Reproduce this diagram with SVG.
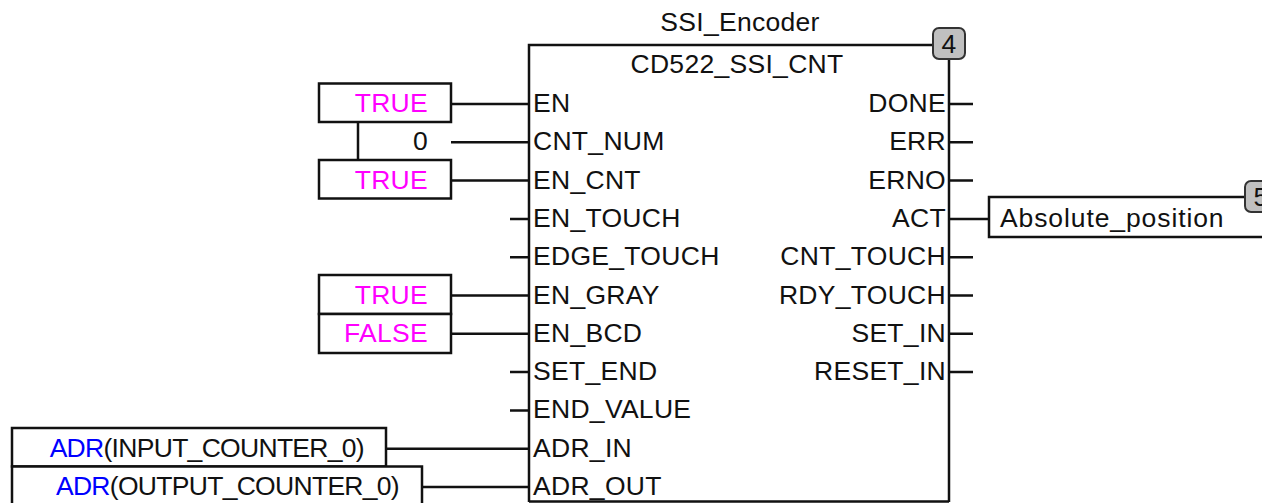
<svg xmlns="http://www.w3.org/2000/svg" width="1262" height="503" viewBox="0 0 1262 503">
<style>
.ln{stroke:#111;stroke-width:2.5;fill:none}
.box{stroke:#111;stroke-width:2.5;fill:#fff}
.badge{stroke:#333;stroke-width:2;fill:#c0c0c0}
text{font-family:"Liberation Sans",Arial,sans-serif;font-size:26.5px;fill:#111;letter-spacing:0.3px}
.r{text-anchor:end}
.c{text-anchor:middle}
.mag{fill:#ff00ff}
.blu{fill:#0000ff}
.adr{letter-spacing:-0.7px}
</style>
<rect width="1262" height="503" fill="#fff"/>
<g id="connectors">
<path class="ln" d="M451 104H529M451 142.3H529M451 180.6H529M510 218.9H529M510 257.2H529M451 295.5H529M451 333.8H529M510 372.1H529M510 410.4H529M386 448.7H529M422 487H529"/>
<path class="ln" d="M949 104H973M949 142.3H973M949 180.6H973M949 218.9H989M949 257.2H973M949 295.5H973M949 333.8H973M949 372.1H973"/>
</g>
<g id="block">
<path class="ln" d="M529 502V45H933M949 59V502M529 501.5H949"/>
<text class="c" x="740" y="31">SSI_Encoder</text>
<text class="c" x="737" y="73">CD522_SSI_CNT</text>
<rect class="badge" x="933" y="28" width="32" height="31" rx="6"/>
<text class="c" x="949" y="53">4</text>
<text x="533" y="112">EN</text>
<text x="533" y="150.3">CNT_NUM</text>
<text x="533" y="188.6">EN_CNT</text>
<text x="533" y="226.9">EN_TOUCH</text>
<text x="533" y="265.2">EDGE_TOUCH</text>
<text x="533" y="303.5">EN_GRAY</text>
<text x="533" y="341.8">EN_BCD</text>
<text x="533" y="380.1">SET_END</text>
<text x="533" y="418.4">END_VALUE</text>
<text x="533" y="456.7">ADR_IN</text>
<text x="533" y="495">ADR_OUT</text>
<text class="r" x="946" y="112">DONE</text>
<text class="r" x="946" y="150.3">ERR</text>
<text class="r" x="946" y="188.6">ERNO</text>
<text class="r" x="946" y="226.9">ACT</text>
<text class="r" x="946" y="265.2">CNT_TOUCH</text>
<text class="r" x="946" y="303.5">RDY_TOUCH</text>
<text class="r" x="946" y="341.8">SET_IN</text>
<text class="r" x="946" y="380.1">RESET_IN</text>
</g>
<g id="in_en">
<rect class="box" x="319" y="83.5" width="132" height="38.5"/>
<text class="r mag" x="428" y="112">TRUE</text>
</g>
<g id="in_cnt_num">
<path class="ln" d="M358 122V160"/>
<text class="r" x="428" y="150.3">0</text>
</g>
<g id="in_en_cnt">
<rect class="box" x="319" y="160" width="132" height="38.5"/>
<text class="r mag" x="428" y="188.6">TRUE</text>
</g>
<g id="in_en_gray">
<rect class="box" x="319" y="275" width="132" height="39"/>
<text class="r mag" x="428" y="303.5">TRUE</text>
</g>
<g id="in_en_bcd">
<rect class="box" x="319" y="314" width="132" height="39"/>
<text class="r mag" x="428" y="341.8">FALSE</text>
</g>
<g id="in_adr_in">
<rect class="box" x="12" y="428" width="374" height="38.5"/>
<text class="r adr" x="364" y="456.7"><tspan class="blu">ADR</tspan>(INPUT_COUNTER_0)</text>
</g>
<g id="in_adr_out">
<rect class="box" x="12" y="466.5" width="410" height="45"/>
<text class="r adr" x="399" y="495"><tspan class="blu">ADR</tspan>(OUTPUT_COUNTER_0)</text>
</g>
<g id="out_act">
<path class="box" d="M1280 237H989V197H1245"/>
<text x="1000" y="226.9" style="letter-spacing:0.9px">Absolute_position</text>
<rect class="badge" x="1245" y="181" width="32" height="31" rx="6"/>
<text class="c" x="1261" y="206">5</text>
</g>
</svg>
